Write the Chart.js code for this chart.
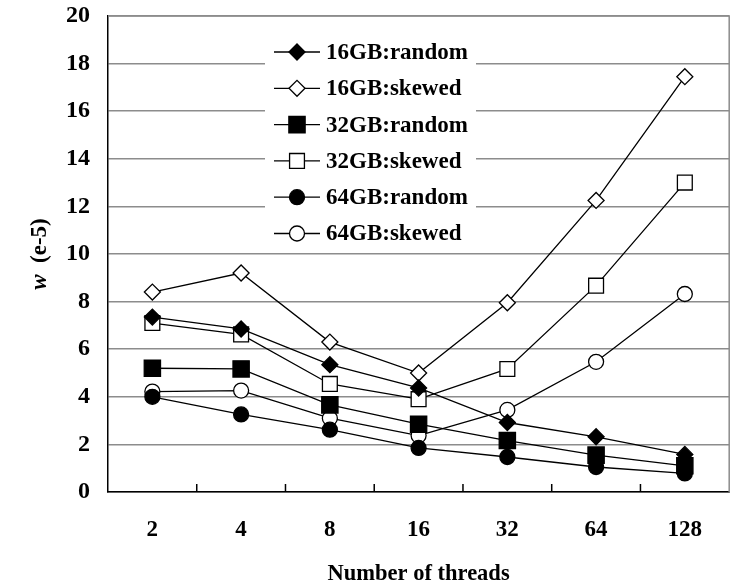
<!DOCTYPE html>
<html>
<head>
<meta charset="utf-8">
<script src="https://cdn.jsdelivr.net/npm/chart.js@4.4.0/dist/chart.umd.min.js"></script>
<style>
  html, body { margin: 0; padding: 0; background: #fff; }
  #wrap { width: 742px; height: 585px; }
</style>
</head>
<body>
<div id="wrap"><canvas id="wChart" width="742" height="585"></canvas></div>
<script>
// x categories: number of threads
const threads = ["2", "4", "8", "16", "32", "64", "128"];

// w values (in e-5)
const gb16Random = [7.35, 6.85, 5.35, 4.37, 2.92, 2.32, 1.58];
const gb16Skewed = [8.4, 9.2, 6.3, 5.0, 7.95, 12.25, 17.45];
const gb32Random = [5.2, 5.17, 3.66, 2.85, 2.16, 1.55, 1.1];
const gb32Skewed = [7.1, 6.62, 4.54, 3.9, 5.17, 8.67, 13.0];
const gb64Random = [4.0, 3.26, 2.62, 1.85, 1.47, 1.05, 0.78];
const gb64Skewed = [4.22, 4.26, 3.1, 2.37, 3.45, 5.47, 8.32];

// y tick labels
const yTicks = [0, 2, 4, 6, 8, 10, 12, 14, 16, 18, 20];

const serif = "'Liberation Serif', 'Times New Roman', serif";

function series(label, data, style, radius, filled) {
  return {
    label: label,
    data: data,
    borderColor: "#000",
    borderWidth: 1.3,
    pointStyle: style,
    pointRadius: radius,
    pointHoverRadius: radius,
    pointBorderWidth: 1.3,
    pointBorderColor: "#000",
    pointBackgroundColor: filled ? "#000" : "#fff",
    fill: false,
    tension: 0
  };
}

// legend drawn inside the plot, line + marker + label
const legendBox = {
  id: "legendBox",
  beforeDatasetsDraw(chart) {
    const ctx = chart.ctx;
    const a = chart.chartArea;
    const x0 = a.left + 157, y0 = a.top + 15;
    ctx.save();
    ctx.fillStyle = "#fff";
    ctx.fillRect(x0, y0, 211, 220);
    chart.data.datasets.forEach(function (ds, i) {
      const cy = y0 + 21 + i * 36.3;
      ctx.strokeStyle = "#000";
      ctx.lineWidth = 1.3;
      ctx.beginPath();
      ctx.moveTo(x0 + 9, cy);
      ctx.lineTo(x0 + 55, cy);
      ctx.stroke();
      ctx.fillStyle = ds.pointBackgroundColor;
      Chart.helpers.drawPoint(ctx, {
        pointStyle: ds.pointStyle,
        radius: ds.pointRadius,
        rotation: 0,
        borderWidth: 1.3
      }, x0 + 32, cy);
      ctx.fillStyle = "#000";
      ctx.font = "bold 23px " + serif;
      ctx.textAlign = "left";
      ctx.textBaseline = "middle";
      ctx.fillText(ds.label, x0 + 61, cy + 1);
    });
    ctx.restore();
  }
};

// gray top/right frame, short inward ticks between categories, y title with italic w
const frame = {
  id: "frame",
  afterDraw(chart) {
    const ctx = chart.ctx;
    const a = chart.chartArea;
    const xs = chart.scales.x;
    ctx.save();
    ctx.strokeStyle = "#8c8c8c";
    ctx.lineWidth = 1.5;
    ctx.beginPath();
    ctx.moveTo(a.left, a.top);
    ctx.lineTo(a.right, a.top);
    ctx.lineTo(a.right, a.bottom);
    ctx.stroke();
    ctx.strokeStyle = "#000";
    ctx.lineWidth = 1.5;
    ctx.beginPath();
    for (let i = 1; i < threads.length; i++) {
      const tx = (xs.getPixelForTick(i - 1) + xs.getPixelForTick(i)) / 2;
      ctx.moveTo(tx, a.bottom);
      ctx.lineTo(tx, a.bottom - 8);
    }
    ctx.stroke();

    // y axis title: "w (e-5)"
    const part1 = "w", part2 = "  (e-5)";
    const f1 = "italic bold 23px " + serif, f2 = "bold 23px " + serif;
    ctx.font = f1;
    const w1 = ctx.measureText(part1).width;
    ctx.font = f2;
    const w2 = ctx.measureText(part2).width;
    ctx.translate(40, (a.top + a.bottom) / 2);
    ctx.rotate(-Math.PI / 2);
    ctx.fillStyle = "#000";
    ctx.textAlign = "left";
    ctx.textBaseline = "middle";
    const sx = -(w1 + w2) / 2;
    ctx.font = f1;
    ctx.fillText(part1, sx, 0);
    ctx.font = f2;
    ctx.fillText(part2, sx + w1, 0);
    ctx.restore();
  }
};

const ctx = document.getElementById("wChart");

new Chart(ctx, {
  type: "line",
  data: {
    labels: threads,
    datasets: [
      series("16GB:random", gb16Random, "rectRot", 8, true),
      series("16GB:skewed", gb16Skewed, "rectRot", 8, false),
      series("32GB:random", gb32Random, "rect", 11.5, true),
      series("32GB:skewed", gb32Skewed, "rect", 10.5, false),
      series("64GB:random", gb64Random, "circle", 7.5, true),
      series("64GB:skewed", gb64Skewed, "circle", 7.5, false)
    ]
  },
  options: {
    responsive: false,
    animation: false,
    layout: { padding: { top: 16, right: 12, left: 0, bottom: 0 } },
    plugins: {
      legend: { display: false },
      tooltip: { enabled: false }
    },
    scales: {
      x: {
        type: "category",
        offset: true,
        grid: { display: false, drawTicks: false },
        border: { display: true, color: "#000", width: 1.5 },
        ticks: {
          color: "#000",
          padding: 24,
          font: { family: serif, size: 23, weight: "bold" }
        },
        title: {
          display: true,
          text: "Number of threads",
          color: "#000",
          padding: { top: 0, bottom: -3 },
          font: { family: serif, size: 22.5, weight: "bold" }
        },
        afterFit(scale) { scale.height = 93; }
      },
      y: {
        min: yTicks[0],
        max: yTicks[yTicks.length - 1],
        ticks: {
          stepSize: yTicks[1] - yTicks[0],
          color: "#000",
          padding: 18,
          font: { family: serif, size: 24, weight: "bold" }
        },
        grid: { color: "#8c8c8c", lineWidth: 1.5, drawTicks: false },
        border: { display: true, color: "#000", width: 1.5 },
        afterFit(scale) {
          scale.width = 108;
          scale.paddingTop = 0;
          scale.paddingBottom = 0;
        }
      }
    }
  },
  plugins: [legendBox, frame]
});
</script>
</body>
</html>
